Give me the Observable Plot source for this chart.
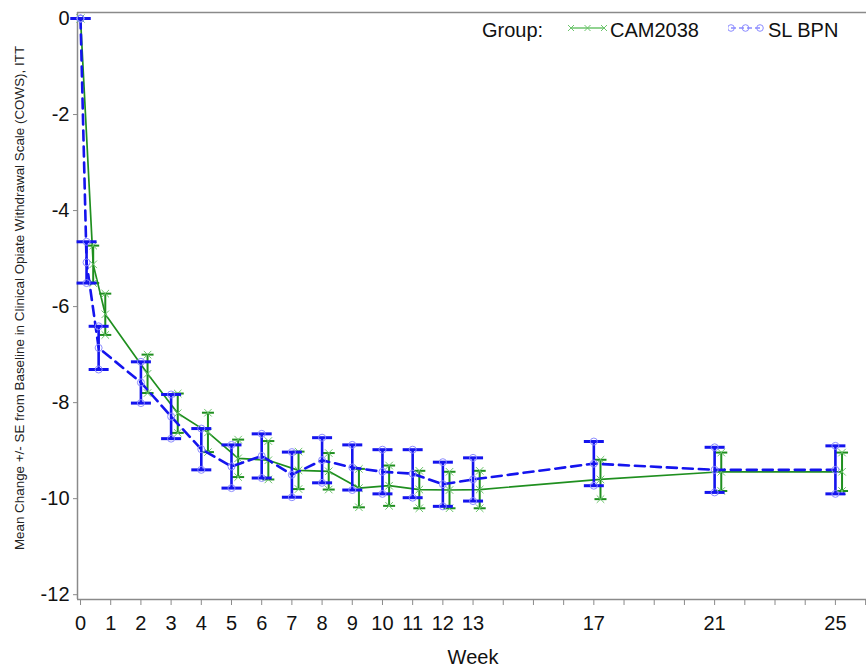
<!DOCTYPE html>
<html>
<head>
<meta charset="utf-8">
<script src="https://cdn.jsdelivr.net/npm/d3@7"></script>
<script src="https://cdn.jsdelivr.net/npm/@observablehq/plot@0.6"></script>
<style>
  html, body { margin: 0; padding: 0; background: #fff; }
  #wrap { position: relative; width: 866px; height: 668px; font-family: "Liberation Sans", Arial, sans-serif; color: #111; }
  #wrap svg { position: absolute; left: 0; top: 0; }
  .ov { position: absolute; white-space: nowrap; line-height: 20px; font-size: 20px; }
</style>
</head>
<body>
<div id="wrap"></div>
<script>
// ---- data ----
const weeks   = [0, 0.2, 0.6, 2, 3, 4, 5, 6, 7, 8, 9, 10, 11, 12, 13, 17, 21, 25];
const camMean = [0, -5.12, -6.16, -7.40, -8.22, -8.62, -9.16, -9.20, -9.41, -9.43, -9.78, -9.73, -9.81, -9.82, -9.81, -9.60, -9.44, -9.44];
const camSE   = [0, 0.39, 0.43, 0.40, 0.41, 0.41, 0.39, 0.40, 0.39, 0.38, 0.40, 0.42, 0.39, 0.38, 0.39, 0.41, 0.40, 0.40];
const slMean  = [0, -5.08, -6.86, -7.58, -8.29, -8.97, -9.33, -9.11, -9.50, -9.20, -9.35, -9.44, -9.48, -9.70, -9.60, -9.27, -9.40, -9.40];
const slSE    = [0, 0.43, 0.45, 0.43, 0.46, 0.43, 0.45, 0.46, 0.47, 0.47, 0.47, 0.46, 0.50, 0.46, 0.45, 0.46, 0.47, 0.50];
const groups  = ["CAM2038", "SL BPN"];
const xTickLabels = [0, 1, 2, 3, 4, 5, 6, 7, 8, 9, 10, 11, 12, 13, 17, 21, 25];
const xTicksAll   = d3.range(0, 27);
const yTicks      = [0, -2, -4, -6, -8, -10, -12];
const xTitle = "Week";
const yTitle = "Mean Change +/- SE from Baseline in Clinical Opiate Withdrawal Scale (COWS), ITT";
const legendTitle = "Group:";

// ---- styling ----
const GREEN = "#1f8f1f", GREEN_L = "#6cc46c";
const BLUE = "#1414ee", BLUE_L = "#8c8cff";
const AXIS = "#8a8a8a";
const xDomain = [-0.1, 26.03];
const yDomain = [-12.1, 0.125];
const dodge = {"CAM2038": 0.22, "SL BPN": 0};

const rows = (group, means, ses) => weeks.map((w, i) => ({
  group, week: w, mean: means[i], lo: means[i] - ses[i], hi: means[i] + ses[i]
}));
const cam = rows(groups[0], camMean, camSE);
const sl  = rows(groups[1], slMean, slSE);
const X = d => d.week === 0 ? d.week : d.week + dodge[d.group];

// horizontal cap symbol (half-width = r)
const cap = { draw(ctx, size) { const w = Math.sqrt(size / Math.PI); ctx.moveTo(-w, 0); ctx.lineTo(w, 0); } };

function seriesMarks(data, color, light, opts) {
  return [
    Plot.line(data, {x: X, y: "mean", stroke: color, strokeWidth: opts.lw, strokeDasharray: opts.dash}),
    Plot.ruleX(data, {x: X, y1: "lo", y2: "hi", stroke: color, strokeWidth: opts.ww}),
    Plot.dot(data, {x: X, y: "lo", symbol: cap, r: opts.capR, stroke: color, strokeWidth: opts.cw, fill: "none"}),
    Plot.dot(data, {x: X, y: "hi", symbol: cap, r: opts.capR, stroke: color, strokeWidth: opts.cw, fill: "none"}),
    ...["mean", "lo", "hi"].map(k =>
      Plot.dot(data, {x: X, y: k, symbol: opts.sym, r: opts.symR, stroke: light, strokeWidth: 1, fill: "none"}))
  ];
}

const chart = Plot.plot({
  width: 866,
  height: 668,
  marginLeft: 77,
  marginRight: 0,
  marginTop: 12,
  marginBottom: 69,
  style: {fontFamily: "'Liberation Sans', Arial, sans-serif", fontSize: "20px", color: "#111", background: "transparent"},
  x: {domain: xDomain, ticks: xTicksAll, tickFormat: d => xTickLabels.includes(d) ? String(d) : "",
      tickSize: 6, tickPadding: 10, label: null},
  y: {domain: yDomain, ticks: yTicks, tickFormat: d => String(d), tickSize: 4, tickPadding: 4, label: null},
  marks: [
    Plot.ruleY([yDomain[1]], {stroke: AXIS, strokeWidth: 1.5}),
    Plot.ruleY([yDomain[0]], {stroke: AXIS, strokeWidth: 1.5}),
    Plot.ruleX([xDomain[0]], {stroke: AXIS, strokeWidth: 1.5}),
    ...seriesMarks(cam, GREEN, GREEN_L, {lw: 1.7, dash: null, ww: 2, cw: 2, capR: 6, sym: "times", symR: 3.5}),
    ...seriesMarks(sl, BLUE, BLUE_L, {lw: 2.6, dash: "10,6", ww: 2.6, cw: 3, capR: 10, sym: "circle", symR: 3.5})
  ]
});
// grey tick marks
chart.querySelectorAll("[aria-label$='axis'] line, [aria-label$='axis tick'] path, [aria-label$='axis tick'] line").forEach(n => n.setAttribute("stroke", AXIS));

const wrap = document.getElementById("wrap");
wrap.appendChild(chart);

function addText(txt, left, top, extra) {
  const d = document.createElement("div");
  d.className = "ov";
  d.textContent = txt;
  d.style.left = left + "px";
  d.style.top = top + "px";
  if (extra) Object.assign(d.style, extra);
  wrap.appendChild(d);
  return d;
}
// axis titles
addText(xTitle, 473, 647, {transform: "translateX(-50%)"});
addText(yTitle, 20, 298, {fontSize: "13.4px", lineHeight: "14px", transform: "translate(-50%,-50%) rotate(-90deg)", color: "#222"});

// legend
addText(legendTitle, 482, 20);
function legendSample(left, color, dash, sym, width) {
  const ns = "http://www.w3.org/2000/svg";
  const s = document.createElementNS(ns, "svg");
  s.setAttribute("width", 40); s.setAttribute("height", 14);
  s.style.position = "absolute"; s.style.left = (left - 3) + "px"; s.style.top = "21px";
  const l = document.createElementNS(ns, "line");
  l.setAttribute("x1", 3); l.setAttribute("x2", 3 + width); l.setAttribute("y1", 7); l.setAttribute("y2", 7);
  l.setAttribute("stroke", color); l.setAttribute("stroke-width", 1.5);
  if (dash) l.setAttribute("stroke-dasharray", dash);
  s.appendChild(l);
  [0, 0.5, 1].forEach(f => {
    const cx = 3 + f * width;
    if (sym === "times") {
      const p = document.createElementNS(ns, "path");
      p.setAttribute("d", `M${cx-3},4L${cx+3},10M${cx-3},10L${cx+3},4`);
      p.setAttribute("stroke", color); p.setAttribute("fill", "none");
      s.appendChild(p);
    } else {
      const c = document.createElementNS(ns, "circle");
      c.setAttribute("cx", cx); c.setAttribute("cy", 7); c.setAttribute("r", 3.3);
      c.setAttribute("stroke", color); c.setAttribute("fill", "none");
      s.appendChild(c);
    }
  });
  wrap.appendChild(s);
}
legendSample(571, GREEN_L, null, "times", 33);
addText(groups[0], 610, 20);
legendSample(731, BLUE_L, "5,3", "circle", 29);
addText(groups[1], 768, 20);
</script>
</body>
</html>
